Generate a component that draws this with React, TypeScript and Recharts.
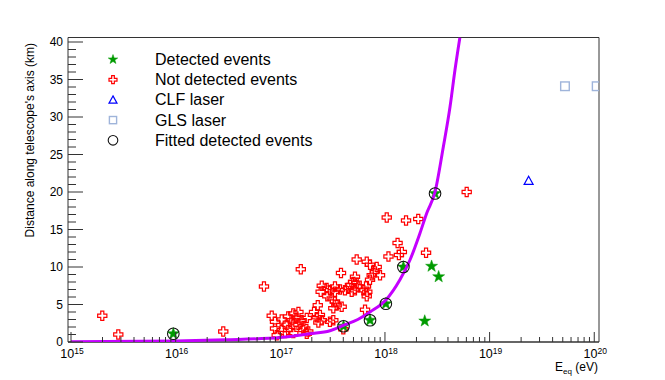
import React from "react";
import { ScatterChart, Scatter, XAxis, YAxis, ReferenceLine, Legend } from "recharts";

const FONT = '"Liberation Sans", Arial, Helvetica, sans-serif';

// e: equivalent energy (eV), d: distance along telescope's axis (km)
const detectedEvents = [
  { e: 9.5e15, d: 1.1 },
  { e: 4.02e17, d: 2.1 },
  { e: 7.2e17, d: 2.9 },
  { e: 1.02e18, d: 5.1 },
  { e: 1.5e18, d: 10.0 },
  { e: 3.01e18, d: 19.8 },
  { e: 2.79e18, d: 10.1 },
  { e: 3.26e18, d: 8.7 },
  { e: 2.4e18, d: 2.8 },
];

const fittedEvents = [
  { e: 9.5e15, d: 1.1 },
  { e: 4.02e17, d: 2.1 },
  { e: 7.2e17, d: 2.9 },
  { e: 1.02e18, d: 5.1 },
  { e: 1.5e18, d: 10.0 },
  { e: 3.01e18, d: 19.8 },
];

const notDetectedEvents = [
  { e: 1.99e15, d: 3.5 }, { e: 2.83e15, d: 1.0 }, { e: 2.85e16, d: 1.4 },
  { e: 6.98e16, d: 7.4 }, { e: 1.57e17, d: 9.7 }, { e: 6.04e18, d: 20.0 },
  { e: 1.59e18, d: 16.2 }, { e: 2.08e18, d: 16.4 }, { e: 2.47e18, d: 11.9 },
  { e: 1.04e18, d: 16.6 }, { e: 1.32e18, d: 13.2 }, { e: 1.45e18, d: 12.0 },
  { e: 1.36e18, d: 11.6 }, { e: 1.08e18, d: 11.4 }, { e: 5.37e17, d: 11.0 },
  { e: 6.7e17, d: 10.7 }, { e: 7.2e17, d: 10.3 }, { e: 8.34e17, d: 10.0 },
  { e: 8.04e17, d: 9.4 }, { e: 8.97e17, d: 8.9 }, { e: 7.47e17, d: 8.9 },
  { e: 7.2e17, d: 8.3 }, { e: 3.8e17, d: 9.2 }, { e: 5.17e17, d: 8.7 },
  { e: 4.99e17, d: 8.0 }, { e: 5.37e17, d: 7.9 }, { e: 4.63e17, d: 7.6 },
  { e: 4.46e17, d: 7.2 }, { e: 5.56e17, d: 7.4 }, { e: 5.17e17, d: 6.9 },
  { e: 6.59e17, d: 7.4 }, { e: 6.78e17, d: 6.7 }, { e: 6.7e17, d: 6.1 },
  { e: 2.49e17, d: 7.5 }, { e: 2.77e17, d: 7.2 }, { e: 2.43e17, d: 6.7 },
  { e: 2.98e17, d: 6.9 }, { e: 3.33e17, d: 7.4 }, { e: 3.33e17, d: 6.7 },
  { e: 3.72e17, d: 7.0 }, { e: 4.15e17, d: 6.9 }, { e: 2.81e17, d: 6.1 },
  { e: 3.1e17, d: 5.8 }, { e: 3.33e17, d: 5.4 }, { e: 3.46e17, d: 4.9 },
  { e: 3.86e17, d: 4.7 }, { e: 3.21e17, d: 4.5 }, { e: 6.45e17, d: 4.3 },
  { e: 2.28e17, d: 4.9 }, { e: 2.1e17, d: 4.0 }, { e: 2.39e17, d: 3.6 },
  { e: 2.23e17, d: 3.3 }, { e: 2.49e17, d: 2.9 }, { e: 2.31e17, d: 2.6 },
  { e: 2.98e17, d: 2.7 }, { e: 3.21e17, d: 2.9 }, { e: 4.0e17, d: 1.7 },
  { e: 8.28e16, d: 3.5 }, { e: 1.03e17, d: 3.0 }, { e: 8.9e16, d: 2.7 },
  { e: 1.19e17, d: 3.4 }, { e: 1.33e17, d: 3.8 }, { e: 1.49e17, d: 4.0 },
  { e: 1.28e17, d: 2.9 }, { e: 1.43e17, d: 3.2 }, { e: 1.6e17, d: 2.9 },
  { e: 1.79e17, d: 3.2 }, { e: 1.15e17, d: 2.3 }, { e: 1.33e17, d: 2.3 },
  { e: 1.49e17, d: 2.3 }, { e: 1.66e17, d: 2.1 }, { e: 8.9e16, d: 1.8 },
  { e: 1.03e17, d: 1.6 }, { e: 1.19e17, d: 1.6 }, { e: 1.11e17, d: 1.2 },
  { e: 9.24e16, d: 0.9 }, { e: 1.33e17, d: 1.2 }, { e: 1.66e17, d: 1.6 },
  { e: 1.85e17, d: 1.4 }, { e: 1.79e17, d: 1.1 }, { e: 4.81e17, d: 6.7 },
  { e: 6.21e17, d: 6.9 },
];

const clfLaser = [{ e: 2.36e19, d: 21.5 }];

const glsLaser = [
  { e: 5.25e19, d: 34.1 },
  { e: 1.055e20, d: 34.1 },
];

const fitCurve = [
  { e: 1e15, d: 0.05 }, { e: 1e16, d: 0.15 }, { e: 3e16, d: 0.3 },
  { e: 1e17, d: 0.6 }, { e: 1.92e17, d: 1.1 }, { e: 2.98e17, d: 1.5 },
  { e: 3.97e17, d: 2.2 }, { e: 5.5e17, d: 3.0 }, { e: 7.2e17, d: 4.0 },
  { e: 1.02e18, d: 5.6 }, { e: 1.39e18, d: 8.3 }, { e: 1.73e18, d: 10.9 },
  { e: 2.16e18, d: 14.5 }, { e: 2.51e18, d: 17.2 }, { e: 3.01e18, d: 20.0 },
  { e: 3.61e18, d: 26.0 }, { e: 4.19e18, d: 31.4 }, { e: 4.67e18, d: 36.3 },
  { e: 5.2e18, d: 40.6 },
];

const xMajorTicks = [1e15, 1e16, 1e17, 1e18, 1e19, 1e20];
const xMinorSteps = [2, 3, 4, 5, 6, 7, 8, 9];
const xTicks = [
  ...xMajorTicks,
  ...xMajorTicks.slice(0, -1).flatMap((dec) => xMinorSteps.map((m) => m * dec)),
].sort((a, b) => a - b);
const yTicks = Array.from({ length: 41 }, (_, i) => i);

const X_DOMAIN = [9.36e14, 1.11e20];
const Y_MAX = 40.6;

const GREEN = "#009a00";
const RED = "#ff0000";
const BLUE = "#0000ff";
const GLS = "#9fb4da";
const MAGENTA = "#c400ff";
const AXIS = "#333";

function Star({ cx, cy, r = 6.3, fill = GREEN }: any) {
  const pts: string[] = [];
  for (let i = 0; i < 10; i++) {
    const a = (-90 + i * 36) * (Math.PI / 180);
    const rr = i % 2 ? r * 0.4 : r;
    pts.push(`${cx + rr * Math.cos(a)},${cy + rr * Math.sin(a)}`);
  }
  return <polygon points={pts.join(" ")} fill={fill} stroke={fill} strokeWidth={0.5} />;
}

function OpenCross({ cx, cy, h = 4.6 }: any) {
  const w = h / 3;
  const p = [
    [-w, -h], [w, -h], [w, -w], [h, -w], [h, w], [w, w],
    [w, h], [-w, h], [-w, w], [-h, w], [-h, -w], [-w, -w],
  ]
    .map(([x, y]) => `${cx + x},${cy + y}`)
    .join(" ");
  return <polygon points={p} fill="none" stroke={RED} strokeWidth={1.2} />;
}

function OpenTriangle({ cx, cy, s = 4.5 }: any) {
  const p = `${cx},${cy - s} ${cx + s},${cy + s * 0.8} ${cx - s},${cy + s * 0.8}`;
  return <polygon points={p} fill="none" stroke={BLUE} strokeWidth={1.2} />;
}

function OpenSquare({ cx, cy, s = 4.3 }: any) {
  return <rect x={cx - s} y={cy - s} width={2 * s} height={2 * s} fill="none" stroke={GLS} strokeWidth={1.4} />;
}

function OpenCircle({ cx, cy, r = 5.8 }: any) {
  return <circle cx={cx} cy={cy} r={r} fill="none" stroke="#111" strokeWidth={1.1} />;
}

function XTick({ x, y, payload }: any) {
  const v = payload.value;
  const major = xMajorTicks.includes(v);
  const exp = Math.round(Math.log10(v));
  return (
    <g>
      <line x1={x} x2={x} y1={y} y2={y - (major ? 10 : 5)} stroke={AXIS} />
      {major && (
        <text x={x + 1} y={y + 16} textAnchor="middle" fontSize={12.5} fontFamily={FONT} fill="#000">
          10
          <tspan dy={-4.5} fontSize={8.5}>
            {exp}
          </tspan>
        </text>
      )}
    </g>
  );
}

function YTick({ x, y, payload }: any) {
  const v = payload.value;
  const major = v % 5 === 0;
  return (
    <g>
      <line x1={x} x2={x + (major ? 15 : 8)} y1={y} y2={y} stroke={AXIS} />
      {major && (
        <text x={x - 5} y={y + 4} textAnchor="end" fontSize={12} fontFamily={FONT} fill="#000">
          {v}
        </text>
      )}
    </g>
  );
}

const legendItems = [
  { label: "Detected events", mark: (cx: number, cy: number) => <Star cx={cx} cy={cy} r={5} /> },
  { label: "Not detected events", mark: (cx: number, cy: number) => <OpenCross cx={cx} cy={cy} h={4} /> },
  { label: "CLF laser", mark: (cx: number, cy: number) => <OpenTriangle cx={cx} cy={cy} s={4} /> },
  { label: "GLS laser", mark: (cx: number, cy: number) => <OpenSquare cx={cx} cy={cy} s={3.6} /> },
  { label: "Fitted detected events", mark: (cx: number, cy: number) => <OpenCircle cx={cx} cy={cy} r={4.8} /> },
];

function LegendBox() {
  return (
    <svg width={270} height={104}>
      {legendItems.map((it, i) => {
        const cy = 11.5 + i * 20.2;
        return (
          <g key={it.label}>
            {it.mark(25, cy)}
            <text x={67} y={cy + 5.5} fontSize={16} fontFamily={FONT} fill="#000">
              {it.label}
            </text>
          </g>
        );
      })}
    </svg>
  );
}

export default function App() {
  return (
    <div style={{ position: "fixed", left: 0, top: 0, width: 665, height: 380, background: "#fff" }}>
      <ScatterChart width={665} height={380} margin={{ top: 37.5, right: 66, bottom: 0, left: 0 }}>
        <XAxis
          dataKey="e"
          type="number"
          scale="log"
          domain={X_DOMAIN}
          allowDataOverflow
          ticks={xTicks}
          interval={0}
          tick={<XTick />}
          tickLine={false}
          tickSize={0}
          tickMargin={0}
          height={38}
          axisLine={{ stroke: AXIS, strokeWidth: 1.5 }}
          label={{
            content: () => (
              <text x={598} y={371} textAnchor="end" fontSize={12} fontFamily={FONT} fill="#000">
                E
                <tspan dy={3} fontSize={8}>
                  eq
                </tspan>
                <tspan dy={-3}> (eV)</tspan>
              </text>
            ),
          }}
        />
        <YAxis
          dataKey="d"
          type="number"
          domain={[0, Y_MAX]}
          allowDataOverflow
          ticks={yTicks}
          interval={0}
          tick={<YTick />}
          tickLine={false}
          tickSize={0}
          tickMargin={0}
          width={68}
          axisLine={{ stroke: AXIS }}
          label={{
            content: () => (
              <text
                x={33.5}
                y={43}
                transform="rotate(-90, 33.5, 43)"
                textAnchor="end"
                fontSize={12}
                fontFamily={FONT}
                fill="#000"
              >
                Distance along telescope's axis (km)
              </text>
            ),
          }}
        />
        <ReferenceLine y={Y_MAX} stroke={AXIS} />
        <ReferenceLine x={X_DOMAIN[1]} stroke={AXIS} />
        <Legend
          layout="vertical"
          align="center"
          verticalAlign="middle"
          content={() => <LegendBox />}
          wrapperStyle={{ left: 88, top: 48, width: 270, height: 104 }}
        />
        <Scatter
          name="Not detected events"
          data={notDetectedEvents}
          shape={(p: any) => <OpenCross cx={p.cx} cy={p.cy} />}
          isAnimationActive={false}
        />
        <Scatter
          name="Detected events"
          data={detectedEvents}
          shape={(p: any) => <Star cx={p.cx} cy={p.cy} />}
          isAnimationActive={false}
        />
        <Scatter
          name="fit"
          data={fitCurve}
          line={{ stroke: MAGENTA, strokeWidth: 3 }}
          lineJointType="monotoneX"
          shape={() => <g />}
          legendType="none"
          isAnimationActive={false}
        />
        <Scatter
          name="CLF laser"
          data={clfLaser}
          shape={(p: any) => <OpenTriangle cx={p.cx} cy={p.cy} />}
          isAnimationActive={false}
        />
        <Scatter
          name="GLS laser"
          data={glsLaser}
          shape={(p: any) => <OpenSquare cx={p.cx} cy={p.cy} />}
          isAnimationActive={false}
        />
        <Scatter
          name="Fitted detected events"
          data={fittedEvents}
          shape={(p: any) => <OpenCircle cx={p.cx} cy={p.cy} />}
          isAnimationActive={false}
        />
      </ScatterChart>
    </div>
  );
}
